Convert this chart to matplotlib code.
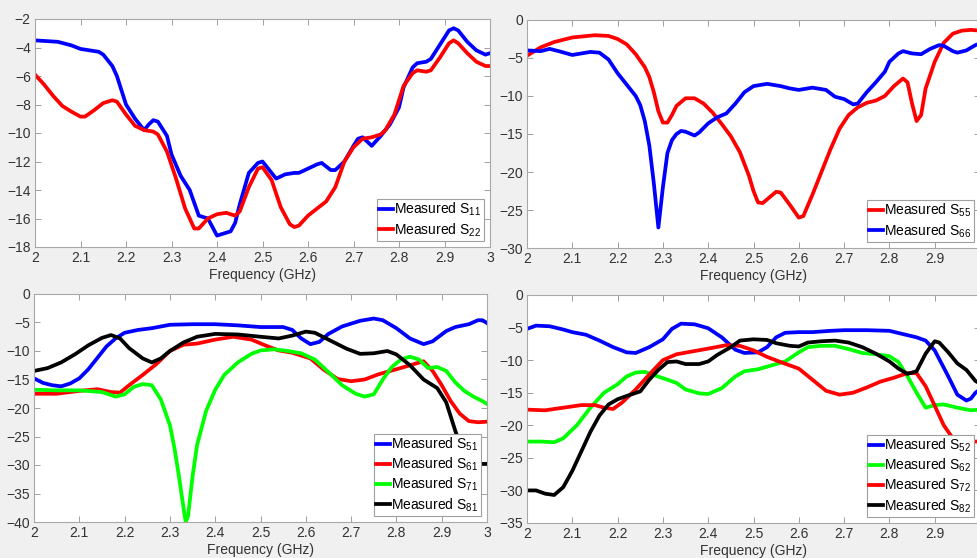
import matplotlib
matplotlib.use("Agg")
import matplotlib.pyplot as plt
import numpy as np

plt.rcParams['font.family'] = ['Liberation Sans', 'DejaVu Sans']
plt.rcParams['mathtext.default'] = 'regular'
plt.rcParams['font.size'] = 10

# ---- S11 / S22 ----
f_s11 = [2.00, 2.05, 2.08, 2.10, 2.12, 2.14, 2.15, 2.17, 2.18, 2.19, 2.20, 2.22, 2.24, 2.25, 2.26,
         2.27, 2.29, 2.30, 2.32, 2.34, 2.36, 2.38, 2.39, 2.40, 2.42, 2.43, 2.44, 2.45, 2.47, 2.49,
         2.50, 2.51, 2.53, 2.55, 2.57, 2.58, 2.60, 2.62, 2.63, 2.65, 2.66, 2.68, 2.70, 2.71, 2.72,
         2.74, 2.76, 2.78, 2.80, 2.81, 2.83, 2.84, 2.86, 2.87, 2.89, 2.91, 2.92, 2.93, 2.95, 2.97,
         2.99, 3.00]
s11 = [-3.5, -3.6, -3.85, -4.1, -4.2, -4.3, -4.5, -5.3, -6.0, -7.0, -8.0, -9.0, -9.8, -9.4, -9.1,
       -9.2, -10.2, -11.5, -13.0, -14.0, -15.8, -16.0, -16.6, -17.2, -17.0, -16.9, -16.3, -15.0, -12.8, -12.1,
       -12.0, -12.4, -13.2, -12.9, -12.8, -12.8, -12.5, -12.2, -12.1, -12.6, -12.6, -12.0, -10.9, -10.4, -10.3,
       -10.9, -10.2, -9.4, -8.2, -6.8, -5.4, -5.1, -5.0, -4.8, -3.8, -2.8, -2.65, -2.8, -3.6, -4.2,
       -4.5, -4.4]

f_s22 = [2.00, 2.02, 2.04, 2.06, 2.08, 2.10, 2.11, 2.13, 2.15, 2.17, 2.18, 2.20, 2.22, 2.24, 2.26,
         2.27, 2.29, 2.31, 2.33, 2.35, 2.36, 2.38, 2.40, 2.42, 2.44, 2.45, 2.47, 2.49, 2.50, 2.52,
         2.54, 2.56, 2.57, 2.58, 2.60, 2.62, 2.64, 2.66, 2.68, 2.70, 2.72, 2.74, 2.76, 2.77, 2.79,
         2.81, 2.83, 2.84, 2.86, 2.87, 2.89, 2.91, 2.92, 2.93, 2.95, 2.97, 2.99, 3.00]
s22 = [-5.9, -6.6, -7.4, -8.1, -8.5, -8.85, -8.85, -8.4, -7.9, -7.7, -7.8, -8.7, -9.5, -9.8, -9.9,
       -10.1, -11.3, -13.2, -15.3, -16.7, -16.7, -16.0, -15.7, -15.6, -15.8, -15.5, -13.8, -12.5, -12.4, -13.3,
       -15.2, -16.4, -16.6, -16.5, -15.8, -15.3, -14.8, -13.8, -12.0, -11.0, -10.4, -10.3, -10.1, -9.8, -8.7,
       -6.7, -5.8, -5.6, -5.7, -5.6, -4.7, -3.7, -3.5, -3.7, -4.4, -5.0, -5.3, -5.3]

# ---- S55 / S66 ----
f_s55 = [2.00, 2.03, 2.06, 2.10, 2.15, 2.18, 2.20, 2.22, 2.24, 2.26, 2.27, 2.28, 2.29, 2.30, 2.31,
         2.32, 2.33, 2.35, 2.37, 2.39, 2.41, 2.43, 2.45, 2.47, 2.49, 2.50, 2.51, 2.52, 2.53, 2.55,
         2.56, 2.58, 2.60, 2.61, 2.63, 2.65, 2.67, 2.69, 2.71, 2.73, 2.75, 2.77, 2.79, 2.81, 2.83,
         2.84, 2.85, 2.86, 2.87, 2.88, 2.90, 2.92, 2.94, 2.96, 2.98, 3.00]
s55 = [-4.7, -3.6, -2.9, -2.3, -2.0, -2.1, -2.5, -3.2, -4.5, -6.2, -7.5, -9.5, -12.0, -13.5, -13.5,
       -12.5, -11.3, -10.3, -10.3, -11.0, -12.2, -13.7, -15.3, -17.4, -20.5, -22.5, -24.0, -24.1, -23.6, -22.6,
       -22.7, -24.3, -26.0, -25.8, -23.0, -20.0, -17.0, -14.3, -12.5, -11.5, -10.9, -10.6, -10.0, -8.7, -7.7,
       -8.2, -11.0, -13.3, -12.5, -9.0, -5.5, -3.0, -1.8, -1.4, -1.3, -1.4]

f_s66 = [2.00, 2.03, 2.05, 2.07, 2.10, 2.12, 2.14, 2.16, 2.18, 2.20, 2.22, 2.24, 2.25, 2.26, 2.27,
         2.28, 2.29, 2.30, 2.31, 2.32, 2.33, 2.34, 2.35, 2.37, 2.38, 2.40, 2.42, 2.44, 2.46, 2.48,
         2.50, 2.53, 2.56, 2.58, 2.60, 2.63, 2.66, 2.68, 2.70, 2.72, 2.73, 2.75, 2.77, 2.79, 2.80,
         2.82, 2.83, 2.85, 2.87, 2.89, 2.91, 2.92, 2.94, 2.95, 2.97, 2.99, 3.00]
s66 = [-4.0, -4.1, -3.8, -4.1, -4.6, -4.4, -4.2, -4.3, -5.2, -7.0, -8.5, -10.0, -11.2, -13.3, -16.5,
       -21.5, -27.3, -22.0, -17.5, -15.8, -15.0, -14.6, -14.7, -15.2, -14.8, -13.6, -12.8, -12.3, -11.0, -9.5,
       -8.7, -8.4, -8.7, -9.0, -9.2, -8.9, -9.2, -10.1, -10.4, -11.1, -11.0, -9.5, -8.2, -6.8, -5.5,
       -4.4, -4.1, -4.4, -4.5, -3.8, -3.3, -3.4, -4.1, -4.3, -4.0, -3.3, -3.1]

# ---- S51 / S61 / S71 / S81 ----
f_s51 = [2.00, 2.02, 2.04, 2.06, 2.08, 2.10, 2.12, 2.14, 2.16, 2.18, 2.20, 2.23, 2.26, 2.30, 2.35,
         2.40, 2.45, 2.50, 2.55, 2.57, 2.59, 2.61, 2.63, 2.65, 2.68, 2.72, 2.75, 2.77, 2.80, 2.83,
         2.86, 2.88, 2.91, 2.93, 2.96, 2.98, 2.99, 3.00]
s51 = [-14.8, -15.6, -16.0, -16.2, -15.7, -14.8, -13.2, -11.2, -9.2, -7.8, -6.8, -6.3, -6.0, -5.4, -5.3,
       -5.3, -5.5, -5.8, -5.8, -6.3, -7.8, -8.8, -8.4, -7.0, -5.7, -4.7, -4.3, -4.6, -6.0, -7.8,
       -8.8, -8.3, -6.5, -5.8, -5.3, -4.6, -4.6, -5.1]

f_s61 = [2.00, 2.05, 2.10, 2.14, 2.17, 2.19, 2.21, 2.24, 2.27, 2.30, 2.33, 2.36, 2.40, 2.44, 2.48,
         2.51, 2.54, 2.57, 2.61, 2.64, 2.67, 2.70, 2.73, 2.76, 2.80, 2.83, 2.86, 2.88, 2.90, 2.92,
         2.94, 2.96, 2.98, 3.00]
s61 = [-17.5, -17.5, -17.0, -16.7, -17.2, -17.3, -16.0, -14.2, -12.3, -10.0, -8.9, -8.7, -8.0, -7.5, -8.0,
       -9.0, -9.9, -10.3, -11.3, -13.3, -14.9, -15.3, -15.0, -14.1, -13.2, -12.5, -11.8, -13.5, -16.0, -18.8,
       -21.0, -22.3, -22.5, -22.4]

f_s71 = [2.00, 2.05, 2.10, 2.15, 2.18, 2.20, 2.22, 2.24, 2.26, 2.28, 2.30, 2.31, 2.32, 2.33, 2.335,
         2.34, 2.35, 2.36, 2.38, 2.40, 2.42, 2.45, 2.48, 2.50, 2.53, 2.56, 2.59, 2.62, 2.65, 2.68,
         2.71, 2.73, 2.75, 2.77, 2.79, 2.81, 2.83, 2.85, 2.87, 2.89, 2.91, 2.93, 2.95, 2.97, 2.99,
         3.00]
s71 = [-16.8, -16.9, -16.9, -17.2, -18.0, -17.6, -16.3, -15.8, -16.0, -18.5, -23.0, -27.0, -32.0, -37.5, -40.0,
       -39.0, -32.0, -26.5, -20.5, -16.8, -14.2, -12.0, -10.5, -9.9, -9.7, -10.0, -10.4, -11.5, -13.7, -16.0,
       -17.5, -18.0, -17.6, -15.0, -12.8, -11.5, -11.0, -11.5, -13.0, -12.8, -13.5, -15.5, -17.0, -18.0, -18.8,
       -19.3]

f_s81 = [2.00, 2.03, 2.06, 2.09, 2.12, 2.15, 2.17, 2.19, 2.21, 2.24, 2.26, 2.28, 2.30, 2.33, 2.36,
         2.40, 2.45, 2.50, 2.54, 2.57, 2.60, 2.62, 2.65, 2.69, 2.72, 2.75, 2.78, 2.80, 2.83, 2.86,
         2.89, 2.91, 2.93, 2.95, 2.97, 3.00]
s81 = [-13.5, -13.0, -12.0, -10.6, -9.0, -7.7, -7.2, -7.8, -9.5, -11.3, -12.0, -11.3, -10.0, -8.5, -7.5,
       -7.0, -7.1, -7.5, -7.8, -7.3, -6.6, -6.8, -8.0, -9.6, -10.5, -10.4, -10.0, -10.6, -12.5, -15.0,
       -16.5, -19.0, -24.0, -28.5, -29.8, -29.8]

# ---- S52 / S62 / S72 / S82 ----
f_s52 = [2.00, 2.02, 2.05, 2.08, 2.10, 2.13, 2.16, 2.19, 2.22, 2.24, 2.27, 2.30, 2.32, 2.34, 2.37,
         2.40, 2.43, 2.46, 2.48, 2.51, 2.53, 2.55, 2.57, 2.60, 2.63, 2.67, 2.70, 2.75, 2.80, 2.83,
         2.86, 2.88, 2.90, 2.93, 2.95, 2.97, 2.98, 2.99, 3.00]
s52 = [-5.2, -4.7, -4.8, -5.3, -5.7, -6.1, -7.0, -8.0, -8.8, -8.9, -8.0, -6.8, -5.2, -4.4, -4.5,
       -5.1, -6.5, -8.4, -8.9, -8.8, -8.0, -6.5, -5.8, -5.7, -5.7, -5.5, -5.4, -5.4, -5.5, -6.0,
       -6.5, -7.0, -8.5, -12.5, -15.3, -16.2, -15.9, -15.0, -14.5]

f_s62 = [2.00, 2.03, 2.06, 2.08, 2.11, 2.14, 2.17, 2.20, 2.22, 2.24, 2.26, 2.28, 2.31, 2.33, 2.35,
         2.38, 2.40, 2.43, 2.46, 2.48, 2.51, 2.54, 2.57, 2.60, 2.62, 2.65, 2.68, 2.71, 2.74, 2.77,
         2.80, 2.82, 2.84, 2.86, 2.88, 2.90, 2.92, 2.95, 2.98, 3.00]
s62 = [-22.5, -22.5, -22.6, -22.0, -20.0, -17.3, -15.0, -13.7, -12.5, -11.9, -11.8, -12.3, -13.0, -13.5, -14.5,
       -15.1, -15.2, -14.3, -12.5, -11.7, -11.4, -10.8, -10.2, -8.8, -8.0, -7.8, -7.8, -8.3, -8.9, -9.1,
       -9.4, -10.3, -12.5, -15.0, -17.3, -16.9, -16.8, -17.3, -17.7, -17.6]

f_s72 = [2.00, 2.04, 2.08, 2.12, 2.15, 2.17, 2.19, 2.21, 2.24, 2.27, 2.30, 2.33, 2.37, 2.41, 2.44,
         2.47, 2.50, 2.53, 2.56, 2.60, 2.63, 2.66, 2.69, 2.72, 2.75, 2.78, 2.81, 2.84, 2.86, 2.88,
         2.90, 2.92, 2.94, 2.97, 3.00]
s72 = [-17.6, -17.7, -17.3, -16.9, -16.9, -17.3, -17.5, -16.5, -14.5, -12.2, -10.0, -9.1, -8.6, -8.1, -7.7,
       -7.8, -8.5, -9.5, -10.3, -11.3, -13.0, -14.7, -15.3, -15.0, -14.2, -13.3, -12.7, -12.0, -12.0, -14.0,
       -17.0, -20.0, -22.0, -22.5, -22.5]

f_s82 = [2.00, 2.02, 2.04, 2.06, 2.08, 2.10, 2.12, 2.14, 2.16, 2.18, 2.20, 2.22, 2.25, 2.27, 2.29,
         2.31, 2.33, 2.35, 2.38, 2.40, 2.42, 2.45, 2.47, 2.50, 2.53, 2.55, 2.58, 2.60, 2.62, 2.65,
         2.68, 2.71, 2.74, 2.77, 2.80, 2.82, 2.84, 2.86, 2.88, 2.90, 2.91, 2.93, 2.95, 2.97, 2.99,
         3.00]
s82 = [-30.0, -30.0, -30.5, -30.7, -29.5, -27.0, -24.0, -21.0, -18.5, -16.8, -16.0, -15.5, -14.8, -13.0, -11.5,
       -10.3, -10.2, -10.6, -10.6, -10.2, -9.2, -8.0, -7.0, -6.8, -6.9, -7.4, -7.8, -7.9, -7.3, -7.1,
       -7.0, -7.3, -8.0, -9.0, -10.2, -11.3, -12.1, -11.7, -9.0, -7.1, -7.3, -8.8, -10.5, -11.5, -13.2,
       -13.6]

W, H = 977, 558
fig = plt.figure(figsize=(W / 100, H / 100), dpi=100, facecolor='#f0f0f0')


def make_axes(x0, y_top, x1, y_bot):
    # pixel box -> figure fraction
    return fig.add_axes([x0 / W, 1 - y_bot / H, (x1 - x0) / W, (y_bot - y_top) / H])


def style(ax, ylim, yticks):
    ax.set_xlim(2, 3)
    ax.set_ylim(*ylim)
    ax.set_xticks(np.arange(2, 3.01, 0.1))
    ax.set_xticklabels(['2', '2.1', '2.2', '2.3', '2.4', '2.5', '2.6', '2.7', '2.8', '2.9', '3'])
    ax.set_yticks(yticks)
    ax.tick_params(direction='in', top=True, right=True, length=4, width=0.6,
                   color='#909090', labelcolor='#333333', labelsize=10, pad=3)
    for sp in ax.spines.values():
        sp.set_color('#a8a8a8')
        sp.set_linewidth(0.8)
    ax.set_xlabel('Frequency (GHz)', fontsize=10, color='#333333', labelpad=2)


def legend(ax):
    lg = ax.legend(loc='lower right', fontsize=10, frameon=True, fancybox=False,
                   edgecolor='#a0a0a0', framealpha=1, handlelength=1.0, handletextpad=0.1,
                   labelspacing=0.2, borderpad=0.15, borderaxespad=0.45)
    lg.get_frame().set_linewidth(0.8)


lw = 2.7

ax1 = make_axes(35, 19, 490, 247)
ax1.plot(f_s11, s11, color='#0000ff', lw=lw, label='Measured S$_{11}$')
ax1.plot(f_s22, s22, color='#ff0000', lw=lw, label='Measured S$_{22}$')
style(ax1, (-18, -2), np.arange(-18, -1, 2))
legend(ax1)

ax2 = make_axes(527, 20, 980, 248)
ax2.plot(f_s55, s55, color='#ff0000', lw=lw, label='Measured S$_{55}$')
ax2.plot(f_s66, s66, color='#0000ff', lw=lw, label='Measured S$_{66}$')
style(ax2, (-30, 0), np.arange(-30, 1, 5))
legend(ax2)

ax3 = make_axes(34, 294, 487, 522)
ax3.plot(f_s51, s51, color='#0000ff', lw=lw, label='Measured S$_{51}$')
ax3.plot(f_s61, s61, color='#ff0000', lw=lw, label='Measured S$_{61}$')
ax3.plot(f_s71, s71, color='#00ff00', lw=lw, label='Measured S$_{71}$')
ax3.plot(f_s81, s81, color='#000000', lw=lw, label='Measured S$_{81}$')
style(ax3, (-40, 0), np.arange(-40, 1, 5))
legend(ax3)

ax4 = make_axes(527, 295, 980, 523)
ax4.plot(f_s52, s52, color='#0000ff', lw=lw, label='Measured S$_{52}$')
ax4.plot(f_s62, s62, color='#00ff00', lw=lw, label='Measured S$_{62}$')
ax4.plot(f_s72, s72, color='#ff0000', lw=lw, label='Measured S$_{72}$')
ax4.plot(f_s82, s82, color='#000000', lw=lw, label='Measured S$_{82}$')
style(ax4, (-35, 0), np.arange(-35, 1, 5))
legend(ax4)

fig.savefig('out.png', dpi=100, facecolor=fig.get_facecolor())
